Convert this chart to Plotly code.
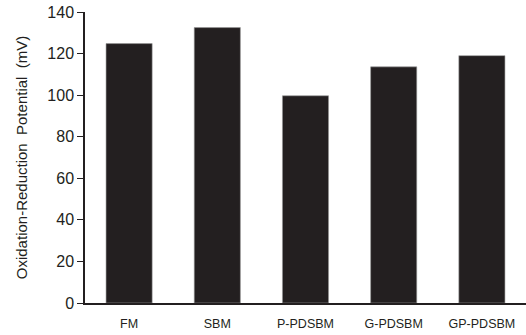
import plotly.graph_objects as go

categories = ["FM", "SBM", "P-PDSBM", "G-PDSBM", "GP-PDSBM"]
orp_values = [124.8, 132.5, 99.7, 113.6, 119.0]
y_ticks = [0, 20, 40, 60, 80, 100, 120, 140]

fig = go.Figure(go.Bar(
    x=categories, y=orp_values,
    marker=dict(color="#231f20", line=dict(color="#9a9a9a", width=0.6)),
))

fig.update_layout(
    width=526, height=335,
    margin=dict(l=85, r=0, t=12, b=32),
    paper_bgcolor="white", plot_bgcolor="white",
    bargap=0.477,
    showlegend=False,
    font=dict(family="Liberation Sans, Arial, sans-serif", color="#231f20"),
)
fig.update_xaxes(
    showline=True, linecolor="#231f20", linewidth=1.5,
    ticks="", ticklabelstandoff=8,
    tickfont=dict(size=12.5),
)
fig.update_yaxes(
    range=[0, 140], tickvals=y_ticks,
    showline=True, linecolor="#231f20", linewidth=1.5,
    ticks="outside", ticklen=6, tickwidth=1.2, tickcolor="#231f20",
    showgrid=False, zeroline=False,
    tickfont=dict(size=16),
    title=dict(text="Oxidation-Reduction  Potential  (mV)", font=dict(size=15), standoff=16),
)

fig.write_html(
    "out.html",
    config={"displayModeBar": False},
    post_script="document.body.style.margin='0';document.body.style.padding='0';",
)
